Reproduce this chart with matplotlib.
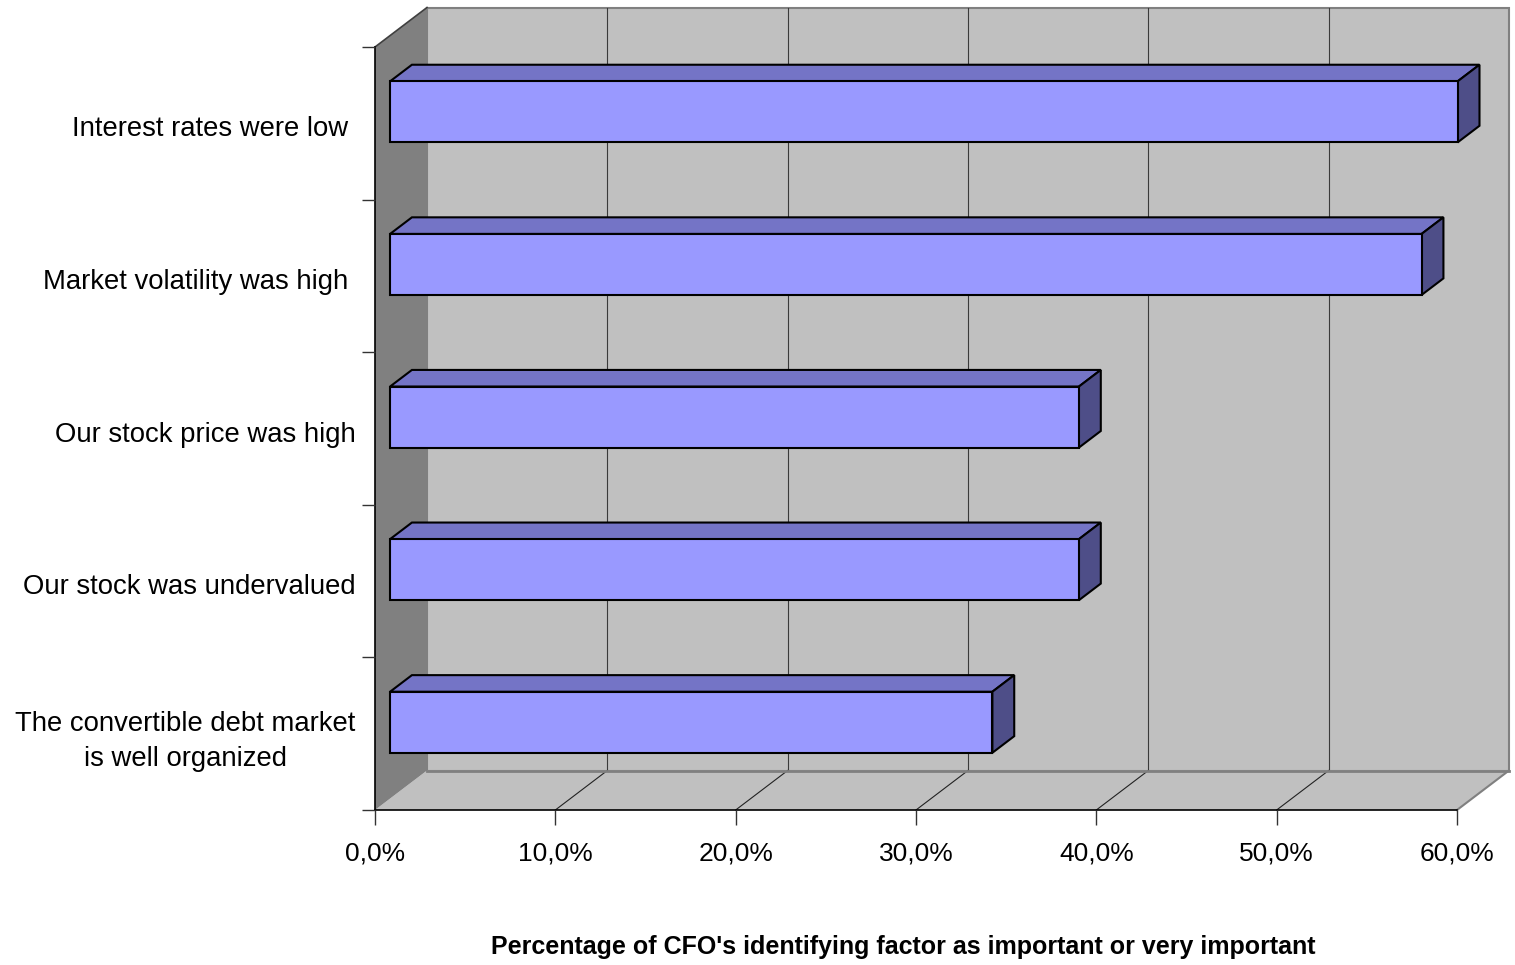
import matplotlib
matplotlib.use("Agg")
import matplotlib.pyplot as plt
from matplotlib.patches import Polygon
import matplotlib.transforms as mtransforms

plt.rcParams['font.family'] = ['Liberation Sans', 'DejaVu Sans']

# ---- data ----
categories = [
    "Interest rates were low ",
    "Market volatility was high ",
    "Our stock price was high",
    "Our stock was undervalued",
    "The convertible debt market\nis well organized",
]
values = [59.2, 57.2, 38.2, 38.2, 33.4]
x_ticks = [0, 10, 20, 30, 40, 50, 60]
x_tick_labels = ["0,0%", "10,0%", "20,0%", "30,0%", "40,0%", "50,0%", "60,0%"]
x_title = "Percentage of CFO's identifying factor as important or very important"

# ---- figure ----
W, H = 1515, 965
fig = plt.figure(figsize=(W / 100, H / 100), dpi=100)
x0, x1, yb, yt = 375, 1457, 810, 47
ax = fig.add_axes([x0 / W, (H - yb) / H, (x1 - x0) / W, (yb - yt) / H])
xmax = 60
n = len(categories)
ax.set_xlim(0, xmax)
ax.set_ylim(0, n)

# depth vector (data units)
px_per_x = (x1 - x0) / xmax
px_per_y = (yb - yt) / n
DX = 52 / px_per_x
DY = 39.5 / px_per_y


def P(v, c, d):
    return (v + d * DX, c + d * DY)


def poly(pts, fc, ec='none', lw=0, z=1):
    p = Polygon(pts, closed=True, facecolor=fc, edgecolor=ec, linewidth=lw,
                clip_on=False, zorder=z, joinstyle='miter')
    ax.add_patch(p)


wall = '#C0C0C0'
side_wall = '#808080'

# back wall
poly([P(0, 0, 1), P(xmax, 0, 1), P(xmax, n, 1), P(0, n, 1)], wall, '#808080', 1.5, 0.5)
# floor
poly([P(0, 0, 0), P(xmax, 0, 0), P(xmax, 0, 1), P(0, 0, 1)], wall, 'none', 0, 0.6)
# left wall
poly([P(0, 0, 0), P(0, n, 0), P(0, n, 1), P(0, 0, 1)], side_wall, 'none', 0, 0.7)

# gridlines on back wall
for v in x_ticks[1:-1]:
    a, b = P(v, 0, 1), P(v, n, 1)
    ax.plot([a[0], b[0]], [a[1], b[1]], color='#3a3a3a', lw=0.8, clip_on=False, zorder=0.8)
# floor gridlines
for v in x_ticks[1:]:
    a, b = P(v, 0, 0), P(v, 0, 1)
    col = '#222222' if v < xmax else '#808080'
    lw = 0.8 if v < xmax else 1.5
    ax.plot([a[0], b[0]], [a[1], b[1]], color=col, lw=lw, clip_on=False, zorder=0.8)
# floor back edge
a, b = P(0, 0, 1), P(xmax, 0, 1)
ax.plot([a[0], b[0]], [a[1], b[1]], color='#808080', lw=2, clip_on=False, zorder=0.9)
# left wall top edge
a, b = P(0, n, 0), P(0, n, 1)
ax.plot([a[0], b[0]], [a[1], b[1]], color='#404040', lw=1.2, clip_on=False, zorder=0.9)

# bars
front_c, top_c, side_c = '#9999FF', '#7474C6', '#4E4E88'
h = 0.2
d0, d1 = 0.29, 0.71
for i, v in enumerate(values):
    cy = n - i - 0.5
    lo, hi = cy - h, cy + h
    poly([P(0, hi, d0), P(v, hi, d0), P(v, hi, d1), P(0, hi, d1)], top_c, 'black', 1.5, 3)
    poly([P(v, lo, d0), P(v, lo, d1), P(v, hi, d1), P(v, hi, d0)], side_c, 'black', 1.5, 3)
    poly([P(0, lo, d0), P(v, lo, d0), P(v, hi, d0), P(0, hi, d0)], front_c, 'black', 1.5, 3)

# axes / ticks
for s in ['top', 'right']:
    ax.spines[s].set_visible(False)
ax.spines['left'].set_linewidth(1.2)
ax.spines['bottom'].set_linewidth(1.2)
ax.spines['left'].set_zorder(1)
ax.spines['bottom'].set_zorder(1)
ax.patch.set_visible(False)

ax.set_xticks(x_ticks)
ax.set_xticklabels(x_tick_labels, fontsize=19)
ax.tick_params(axis='x', direction='out', length=11, width=1, color='#333333', pad=12)

ax.set_yticks(range(n + 1))
ax.set_yticklabels([])
ax.tick_params(axis='y', which='major', direction='out', length=9.5, width=1, color='#333333')
ax.set_yticks([n - i - 0.5 for i in range(n)], minor=True)
ax.set_yticklabels(categories, minor=True, fontsize=19.8)
ax.tick_params(axis='y', which='minor', length=0, pad=14)
shift = mtransforms.ScaledTranslation(0, -3 / 100, fig.dpi_scale_trans)
for lab in ax.get_yticklabels(minor=True):
    lab.set_multialignment('center')
    lab.set_linespacing(1.45)
    if "\n" not in lab.get_text():
        lab.set_transform(lab.get_transform() + shift)

fig.text(903 / W, 1 - 947 / H, x_title, ha='center', va='center',
         fontsize=18, fontweight='bold')

fig.savefig('out.png', dpi=100, facecolor='white')
